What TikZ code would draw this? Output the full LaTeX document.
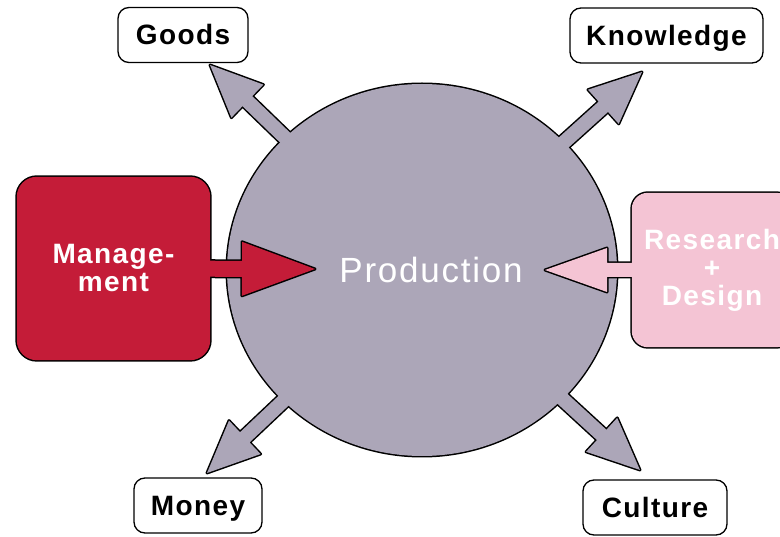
\documentclass[tikz,border=0pt]{standalone}
\usepackage{fontspec}
\setmainfont{Liberation Sans}[LetterSpace=5]
\usetikzlibrary{calc,shapes.geometric,backgrounds}
\definecolor{mred}{RGB}{196,28,56}
\definecolor{mpink}{RGB}{244,196,212}
\definecolor{pgray}{RGB}{172,166,184}
\newcommand{\fatarrow}[5]{($(#1)!#3!90:(#2)$) -- ($(#2)!#5!(#1)!#3!-90:(#1)$) -- ($(#2)!#5!(#1)!#4!-90:(#1)$) -- (#2) -- ($(#2)!#5!(#1)!#4!90:(#1)$) -- ($(#2)!#5!(#1)!#3!90:(#1)$) -- ($(#1)!#3!-90:(#2)$) -- cycle}
\tikzset{
  lbl/.style={draw=black, line width=1.3pt, rounded corners=11pt, fill=white, inner sep=0pt,
    minimum height=55pt, text height=20pt, text depth=0pt, font=\fontsize{28}{32}\selectfont\bfseries},
  bigbox/.style={inner sep=0pt, align=center, text=white,
    font=\fontsize{28}{28}\selectfont\bfseries},
  outl/.style={draw=black, line width=3pt, line join=round},
}
\begin{document}
\begin{tikzpicture}[x=1pt,y=-1pt]
\useasboundingbox (0,0) rectangle (780,537);
\clip (0,0) rectangle (780,537);

% main nodes (text only, shapes painted on background layer)
\node[ellipse, minimum width=390pt, minimum height=372pt, inner sep=0pt] (prod) at (422,270) {};
\node[text=white, font=\fontsize{35}{40}\selectfont] (ptext) at (431,270) {Production};
\node[bigbox, minimum width=193pt, minimum height=183pt] (mgmt) at (113.5,268.5) {Manage-\\ment};
\node[bigbox, minimum width=160pt, minimum height=154pt] (rd) at (712,270) {Research\\+\\Design};

% label boxes
\node[lbl, minimum width=130pt] (goods) at (183,35) {Goods};
\node[lbl, minimum width=193pt] (know) at (666.5,35.5) {Knowledge};
\node[lbl, minimum width=128pt] (money) at (198,505.5) {Money};
\node[lbl, minimum width=144pt] (cult) at (655,507.5) {Culture};

% arrow tips
\coordinate (gtip) at (210,65);
\coordinate (ktip) at (642,72);
\coordinate (mtip) at (207,473);
\coordinate (ctip) at (640,470);
\coordinate (redtip) at (315,269);
\coordinate (pinktip) at (545,270);

\begin{scope}[on background layer]
  \fill[white] (0,0) rectangle (780,537);
  % circle group
  \path[outl] (prod.center) ellipse [x radius=195pt, y radius=186pt];
  \path[outl] \fatarrow{prod.center}{gtip}{7pt}{23pt}{52pt};
  \path[outl] \fatarrow{prod.center}{ktip}{7pt}{23pt}{52pt};
  \path[outl] \fatarrow{prod.center}{mtip}{7pt}{23pt}{52pt};
  \path[outl] \fatarrow{prod.center}{ctip}{7pt}{23pt}{52pt};
  \fill[pgray] (prod.center) ellipse [x radius=195pt, y radius=186pt];
  \fill[pgray] \fatarrow{prod.center}{gtip}{7pt}{23pt}{52pt};
  \fill[pgray] \fatarrow{prod.center}{ktip}{7pt}{23pt}{52pt};
  \fill[pgray] \fatarrow{prod.center}{mtip}{7pt}{23pt}{52pt};
  \fill[pgray] \fatarrow{prod.center}{ctip}{7pt}{23pt}{52pt};
  % management group
  \path[outl, rounded corners=20pt] (mgmt.north west) rectangle (mgmt.south east);
  \path[outl] \fatarrow{mgmt.center}{redtip}{8pt}{27pt}{73pt};
  \fill[mred, rounded corners=20pt] (mgmt.north west) rectangle (mgmt.south east);
  \fill[mred] \fatarrow{mgmt.center}{redtip}{8pt}{27pt}{73pt};
  % research group
  \path[outl, rounded corners=16pt] (rd.north west) rectangle (rd.south east);
  \path[outl] \fatarrow{rd.center}{pinktip}{7pt}{22pt}{62pt};
  \fill[mpink, rounded corners=16pt] (rd.north west) rectangle (rd.south east);
  \fill[mpink] \fatarrow{rd.center}{pinktip}{7pt}{22pt}{62pt};
\end{scope}
\end{tikzpicture}
\end{document}
